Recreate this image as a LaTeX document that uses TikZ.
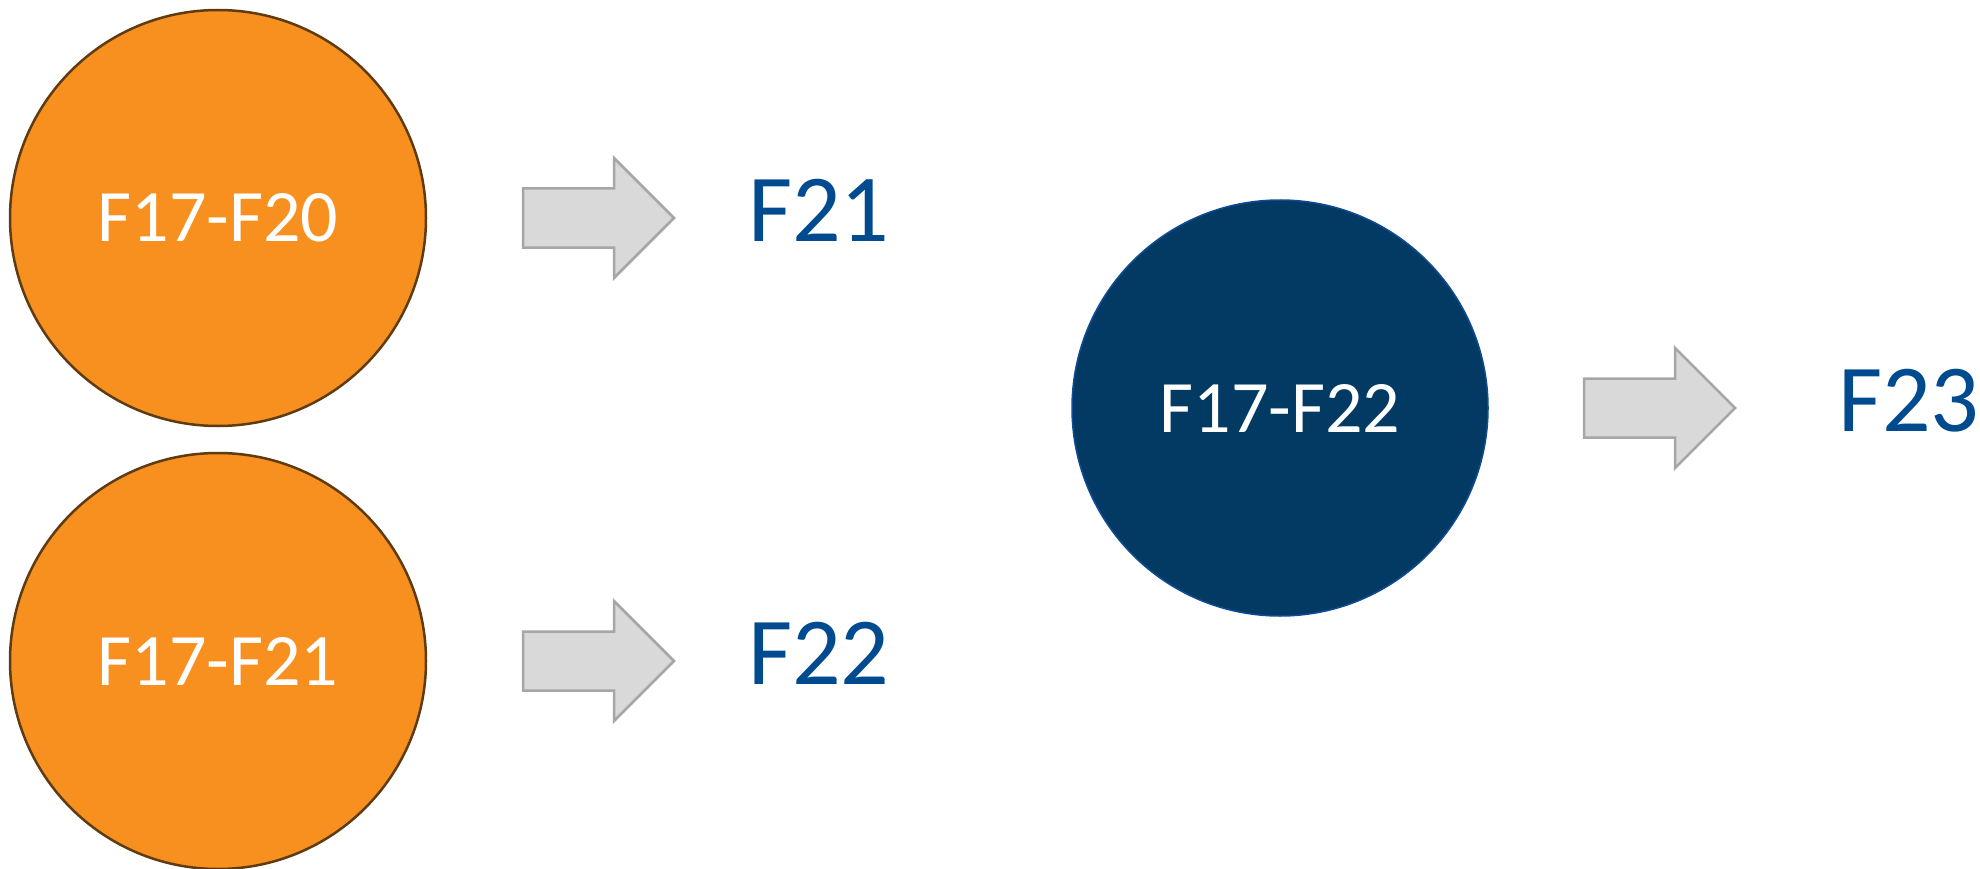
\documentclass[tikz,border=0pt]{standalone}
\usepackage{fontspec}
\setmainfont{Carlito}
\definecolor{orangefill}{HTML}{F7901E}
\definecolor{orangeline}{HTML}{5E3B10}
\definecolor{navyfill}{HTML}{033A64}
\definecolor{navyline}{HTML}{0F4C94}
\definecolor{labelblue}{HTML}{004A8F}
\definecolor{arrowfill}{HTML}{D9D9D9}
\definecolor{arrowline}{HTML}{A6A6A6}
\tikzset{
  stagecircle/.style={circle, minimum size=416pt, inner sep=0pt, text=white,
    font=\fontsize{74}{89}\selectfont},
  inputcircle/.style={stagecircle, fill=orangefill, draw=orangeline, line width=2.5pt},
  outputcircle/.style={stagecircle, fill=navyfill, draw=navyline, line width=1.5pt},
  resultlabel/.style={anchor=base west, inner sep=0pt, text=labelblue,
    font=\fontsize{96}{115}\selectfont},
  blockarrow/.pic={
    \draw[fill=arrowfill, draw=arrowline, line width=2.5pt, line join=miter]
      (0,-29.5) -- (91,-29.5) -- (91,-60) -- (151,0) -- (91,60) -- (91,29.5) -- (0,29.5) -- cycle;
  }
}
\begin{document}
\begin{tikzpicture}[x=1pt, y=-1pt]
  \useasboundingbox (0,0) rectangle (1980,869);

  % input groups
  \node[inputcircle] (g20) at (218,218) {F17-F20};
  \node[inputcircle] (g21) at (218,661) {F17-F21};

  % combined group
  \node[outputcircle] (g22) at (1280,408) {F17-F22};

  % block arrows
  \pic at (523,218) {blockarrow};
  \pic at (523,661) {blockarrow};
  \pic at (1584,408) {blockarrow};

  % resulting labels
  \node[resultlabel] (f21) at (748,241) {F21};
  \node[resultlabel] (f22) at (748,684) {F22};
  \node[resultlabel] (f23) at (1838,431) {F23};
\end{tikzpicture}
\end{document}
